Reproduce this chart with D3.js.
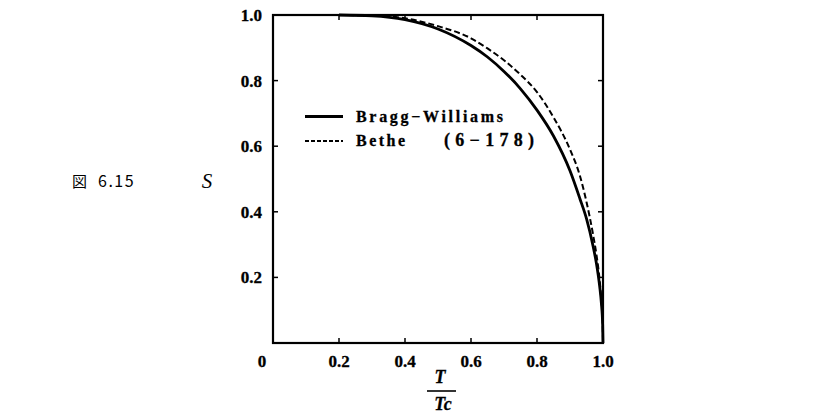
<!DOCTYPE html>
<html>
<head>
<meta charset="utf-8">
<script src="https://cdn.jsdelivr.net/npm/d3@7"></script>
<style>
  html, body { margin: 0; padding: 0; background: #fff; }
  svg { display: block; }
</style>
</head>
<body>
<svg id="chart" width="815" height="415"></svg>
<script>
// ---- data ----
const tValues      = [0.2, 0.3, 0.4, 0.5, 0.6, 0.65, 0.7, 0.75, 0.8, 0.85, 0.9, 0.93, 0.95, 0.97, 0.98, 0.99, 0.995, 0.999, 1.0];
const braggWilliams = [1.0, 0.9975, 0.986, 0.9575, 0.907, 0.872, 0.828, 0.775, 0.710, 0.631, 0.525, 0.44, 0.379, 0.295, 0.243, 0.172, 0.122, 0.055, 0.0];
const bethe         = [1.0, 0.998, 0.990, 0.966, 0.929, 0.898, 0.862, 0.818, 0.765, 0.688, 0.59, 0.51, 0.43, 0.33, 0.27, 0.19, 0.13, 0.06, 0.0];
const xTicks = [0.2, 0.4, 0.6, 0.8, 1.0];
const yTicks = [0.2, 0.4, 0.6, 0.8, 1.0];
const seriesNames = ["Bragg-Williams", "Bethe"];
const equationRef = "(6-178)";
const figureLabel = ["図", "6.15"];

const svg = d3.select("#chart");
const x = d3.scaleLinear().domain([0, 1]).range([273, 603]);
const y = d3.scaleLinear().domain([0, 1]).range([343, 15]);

const serif = "'Liberation Serif', 'Times New Roman', serif";

// bold serif text helper
function boldText(sel) {
  return sel.attr("font-family", serif).attr("font-weight", "bold").attr("fill", "#000")
    .attr("stroke", "#000").attr("stroke-width", 0.3);
}

// curves
const line = d3.line()
  .x((d) => x(d[0]))
  .y((d) => y(d[1]))
  .curve(d3.curveMonotoneX);

svg.append("path")
  .datum(tValues.map((t, i) => [t, bethe[i]]))
  .attr("d", line)
  .attr("fill", "none")
  .attr("stroke", "#000")
  .attr("stroke-width", 2)
  .attr("stroke-dasharray", "6,3");

svg.append("path")
  .datum(tValues.map((t, i) => [t, braggWilliams[i]]))
  .attr("d", line)
  .attr("fill", "none")
  .attr("stroke", "#000")
  .attr("stroke-width", 2.8);

// inward ticks on all four sides
const tickLen = 5;
const ticks = svg.append("g").attr("stroke", "#000").attr("stroke-width", 1.5);
xTicks.slice(0, -1).forEach((v) => {
  ticks.append("line").attr("x1", x(v)).attr("x2", x(v)).attr("y1", y(0)).attr("y2", y(0) - tickLen);
  ticks.append("line").attr("x1", x(v)).attr("x2", x(v)).attr("y1", y(1)).attr("y2", y(1) + tickLen);
});
yTicks.slice(0, -1).forEach((v) => {
  ticks.append("line").attr("x1", x(0)).attr("x2", x(0) + tickLen).attr("y1", y(v)).attr("y2", y(v));
  ticks.append("line").attr("x1", x(1)).attr("x2", x(1) - tickLen).attr("y1", y(v)).attr("y2", y(v));
});

// frame
svg.append("rect")
  .attr("x", x(0)).attr("y", y(1))
  .attr("width", x(1) - x(0)).attr("height", y(0) - y(1))
  .attr("fill", "none").attr("stroke", "#000").attr("stroke-width", 2.2);

// tick labels
xTicks.forEach((v) => {
  boldText(svg.append("text")).attr("font-size", 17)
    .attr("x", x(v)).attr("y", 367).attr("text-anchor", "middle").text(v.toFixed(1));
});
boldText(svg.append("text")).attr("font-size", 17)
  .attr("x", 262).attr("y", 367).attr("text-anchor", "middle").text("0");
yTicks.forEach((v) => {
  boldText(svg.append("text")).attr("font-size", 17)
    .attr("x", 262).attr("y", y(v)).attr("dy", "0.35em").attr("text-anchor", "end").text(v.toFixed(1));
});

// x-axis title T / Tc
boldText(svg.append("text")).attr("font-style", "italic").attr("font-size", 18)
  .attr("x", 440).attr("y", 383).attr("text-anchor", "middle").text("T");
svg.append("line").attr("x1", 427).attr("x2", 456).attr("y1", 391).attr("y2", 391)
  .attr("stroke", "#000").attr("stroke-width", 1.6);
boldText(svg.append("text")).attr("font-style", "italic").attr("font-size", 18)
  .attr("x", 443).attr("y", 410).attr("text-anchor", "middle").text("Tc");

// y-axis title S
svg.append("text").attr("x", 207).attr("y", 188).attr("text-anchor", "middle")
  .attr("font-family", serif).attr("font-style", "italic").attr("font-size", 21).text("S");

// figure label
svg.append("text").attr("x", 72).attr("y", 187)
  .attr("font-family", "'Noto Sans CJK JP'").attr("font-size", 15).attr("fill", "#000")
  .text(figureLabel[0]);
svg.append("text").attr("x", 98).attr("y", 187)
  .attr("font-family", "'Noto Sans CJK JP'").attr("font-size", 16).attr("fill", "#000")
  .attr("letter-spacing", 1.5)
  .text(figureLabel[1]);

// legend
svg.append("line").attr("x1", 305).attr("x2", 343).attr("y1", 116.5).attr("y2", 116.5)
  .attr("stroke", "#000").attr("stroke-width", 2.8);
svg.append("line").attr("x1", 305).attr("x2", 343).attr("y1", 141).attr("y2", 141)
  .attr("stroke", "#000").attr("stroke-width", 1.8).attr("stroke-dasharray", "4,2");
boldText(svg.append("text")).attr("font-size", 16)
  .attr("x", 356).attr("y", 122).attr("textLength", 147).attr("lengthAdjust", "spacing")
  .text(seriesNames[0].replace("-", "\u2212"));
boldText(svg.append("text")).attr("font-size", 18)
  .attr("x", 444).attr("y", 146).attr("textLength", 90).attr("lengthAdjust", "spacing")
  .text(equationRef.replace("-", "\u2212"));
boldText(svg.append("text")).attr("font-size", 16)
  .attr("x", 356).attr("y", 146).attr("textLength", 49).attr("lengthAdjust", "spacing")
  .text(seriesNames[1]);
</script>
</body>
</html>
